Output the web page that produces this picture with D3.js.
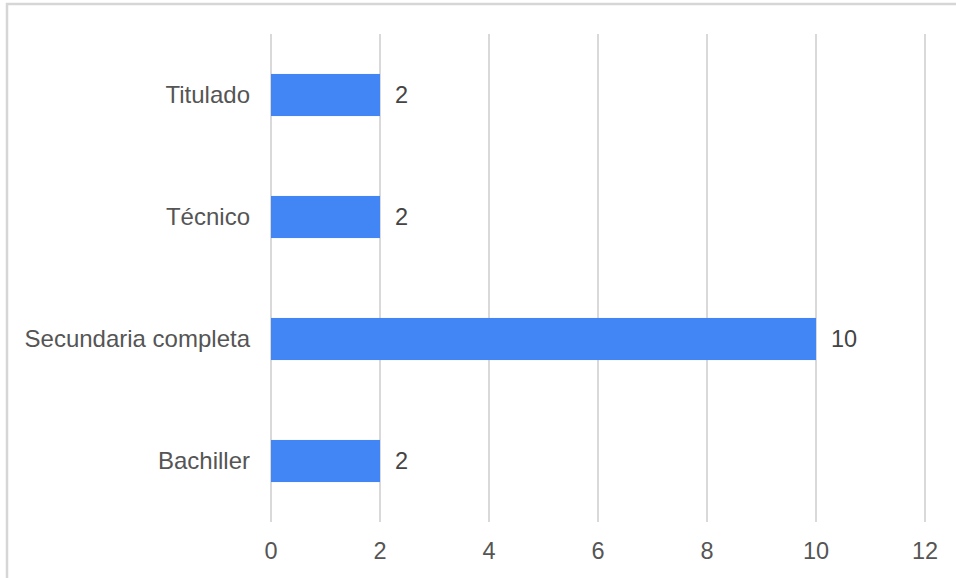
<!DOCTYPE html>
<html>
<head>
<meta charset="utf-8">
<script src="https://cdn.jsdelivr.net/npm/d3@7"></script>
<style>
  body { margin: 0; background: #fff; }
  svg { display: block; font-family: "Liberation Sans", Arial, sans-serif; }
</style>
</head>
<body>
<script>
const categories = ["Titulado", "Técnico", "Secundaria completa", "Bachiller"];
const values = [2, 2, 10, 2];
const ticks = [0, 2, 4, 6, 8, 10, 12];

const width = 956, height = 578;

const svg = d3.select("body").append("svg")
    .attr("width", width)
    .attr("height", height);

// frame
svg.append("path")
    .attr("d", `M7,${height} V4 H${width}`)
    .attr("fill", "none")
    .attr("stroke", "#d6d6d6")
    .attr("stroke-width", 2.5);

const x = d3.scaleLinear().domain([0, 12]).range([271, 925]);
const y = d3.scaleBand().domain(categories).range([34, 522]).paddingInner(0.655).paddingOuter(0.3275);

// grid
svg.append("g")
    .attr("stroke", "#d9d9d9")
    .attr("stroke-width", 2)
  .selectAll("line")
  .data(ticks)
  .join("line")
    .attr("x1", d => x(d)).attr("x2", d => x(d))
    .attr("y1", 34).attr("y2", 522);

// tick labels
svg.append("g")
    .attr("fill", "#555")
    .attr("font-size", 23.5)
    .attr("text-anchor", "middle")
  .selectAll("text")
  .data(ticks)
  .join("text")
    .attr("x", d => x(d))
    .attr("y", 551)
    .attr("dy", "0.35em")
    .text(d => d);

// bars
svg.append("g")
    .attr("fill", "#4285f4")
  .selectAll("rect")
  .data(categories)
  .join("rect")
    .attr("x", x(0))
    .attr("y", d => y(d))
    .attr("width", (d, i) => x(values[i]) - x(0))
    .attr("height", y.bandwidth());

// category labels
svg.append("g")
    .attr("fill", "#555")
    .attr("font-size", 24)
    .attr("text-anchor", "end")
  .selectAll("text")
  .data(categories)
  .join("text")
    .attr("x", 250)
    .attr("y", d => y(d) + y.bandwidth() / 2)
    .attr("dy", "0.35em")
    .text(d => d);

// value labels
svg.append("g")
    .attr("fill", "#444")
    .attr("font-size", 23.5)
  .selectAll("text")
  .data(categories)
  .join("text")
    .attr("x", (d, i) => x(values[i]) + 15)
    .attr("y", d => y(d) + y.bandwidth() / 2)
    .attr("dy", "0.35em")
    .text((d, i) => values[i]);
</script>
</body>
</html>
